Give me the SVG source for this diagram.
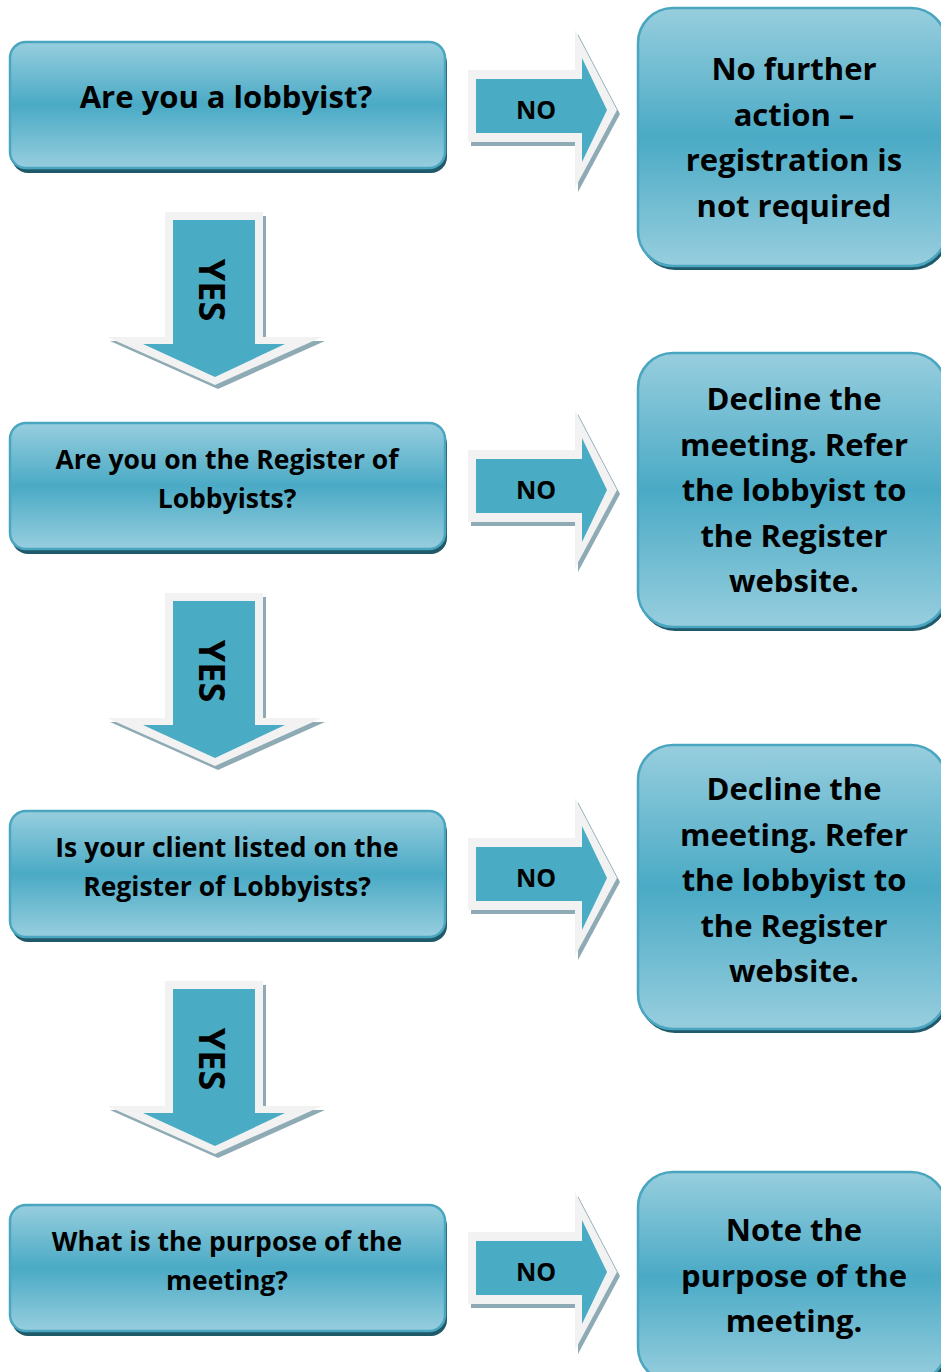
<svg xmlns="http://www.w3.org/2000/svg" width="941" height="1372" viewBox="0 0 941 1372">
<defs>
<linearGradient id="g" x1="0" y1="0" x2="0" y2="1">
<stop offset="0" stop-color="#97cede"/>
<stop offset="0.5" stop-color="#4aaac5"/>
<stop offset="1" stop-color="#97cede"/>
</linearGradient>
<style>
.box{fill:url(#g);stroke:#4aa6c0;stroke-width:2.5}
.sh{fill:#205a6a}
.aw{fill:#f2f2f2}
.ash{fill:#8eaab4}
.ab{fill:#4aabc5}
text{font-family:"Open Sans","Liberation Sans",sans-serif;font-weight:bold;fill:#000;text-anchor:middle}
.t1{font-size:31px}
.t2{font-size:26.5px}
.tn{font-size:25px}
.ty{font-size:36px}
</style>
<g id="rarrow">
<polygon class="ash" transform="translate(3,4)" points="468,-40 575,-40 575,-80 617,0 575,78 575,32 468,32"/>
<polygon class="aw" points="468,-40 575,-40 575,-80 617,0 575,78 575,32 468,32"/>
<polygon class="ab" points="476,-31 582,-31 582,-52 607,0 582,52 582,23 476,23"/>
<text class="tn" x="536" y="9">NO</text>
</g>
<g id="darrow">
<polygon class="ash" transform="translate(3,4)" points="165,0 263,0 263,125 322,125 215,173 107,125 165,125"/>
<polygon class="aw" points="165,0 263,0 263,125 322,125 215,173 107,125 165,125"/>
<polygon class="ab" points="173,8 255,8 255,132 285,132 215,165 143,132 173,132"/>
<text class="ty" transform="translate(212,78) rotate(90)" y="13">YES</text>
</g>
</defs>

<g id="connectors">
<use href="#darrow" y="212"/>
<use href="#darrow" y="593"/>
<use href="#darrow" y="981"/>
<use href="#rarrow" y="110"/>
<use href="#rarrow" y="490"/>
<use href="#rarrow" y="878"/>
<use href="#rarrow" y="1272"/>
</g>

<g id="q1">
<rect class="sh" x="12" y="47" width="435" height="126" rx="16"/>
<rect class="box" x="10" y="42" width="435" height="126" rx="16"/>
<text class="t1" x="226" y="108">Are you a lobbyist?</text>
</g>
<g id="q2">
<rect class="sh" x="12" y="428" width="435" height="126" rx="16"/>
<rect class="box" x="10" y="423" width="435" height="126" rx="16"/>
<text class="t2" x="227" y="469">Are you on the Register of</text>
<text class="t2" x="227" y="508">Lobbyists?</text>
</g>
<g id="q3">
<rect class="sh" x="12" y="816" width="435" height="126" rx="16"/>
<rect class="box" x="10" y="811" width="435" height="126" rx="16"/>
<text class="t2" x="227" y="857">Is your client listed on the</text>
<text class="t2" x="227" y="896">Register of Lobbyists?</text>
</g>
<g id="q4">
<rect class="sh" x="12" y="1210" width="435" height="126" rx="16"/>
<rect class="box" x="10" y="1205" width="435" height="126" rx="16"/>
<text class="t2" x="227" y="1251">What is the purpose of the</text>
<text class="t2" x="227" y="1290">meeting?</text>
</g>

<g id="r1">
<rect class="sh" x="640" y="12" width="308" height="258" rx="35"/>
<rect class="box" x="638" y="8" width="308" height="258" rx="35"/>
<text class="t1" x="794" y="80">No further</text>
<text class="t1" x="794" y="125.5">action –</text>
<text class="t1" x="794" y="171">registration is</text>
<text class="t1" x="794" y="216.5">not required</text>
</g>
<g id="r2">
<rect class="sh" x="640" y="357" width="308" height="274" rx="35"/>
<rect class="box" x="638" y="353" width="308" height="274" rx="35"/>
<text class="t1" x="794" y="410">Decline the</text>
<text class="t1" x="794" y="455.5">meeting. Refer</text>
<text class="t1" x="794" y="501">the lobbyist to</text>
<text class="t1" x="794" y="546.5">the Register</text>
<text class="t1" x="794" y="592">website.</text>
</g>
<g id="r3">
<rect class="sh" x="640" y="749" width="308" height="284" rx="35"/>
<rect class="box" x="638" y="745" width="308" height="284" rx="35"/>
<text class="t1" x="794" y="800">Decline the</text>
<text class="t1" x="794" y="845.5">meeting. Refer</text>
<text class="t1" x="794" y="891">the lobbyist to</text>
<text class="t1" x="794" y="936.5">the Register</text>
<text class="t1" x="794" y="982">website.</text>
</g>
<g id="r4">
<rect class="sh" x="640" y="1176" width="308" height="210" rx="35"/>
<rect class="box" x="638" y="1172" width="308" height="210" rx="35"/>
<text class="t1" x="794" y="1241">Note the</text>
<text class="t1" x="794" y="1286.5">purpose of the</text>
<text class="t1" x="794" y="1332">meeting.</text>
</g>
</svg>
